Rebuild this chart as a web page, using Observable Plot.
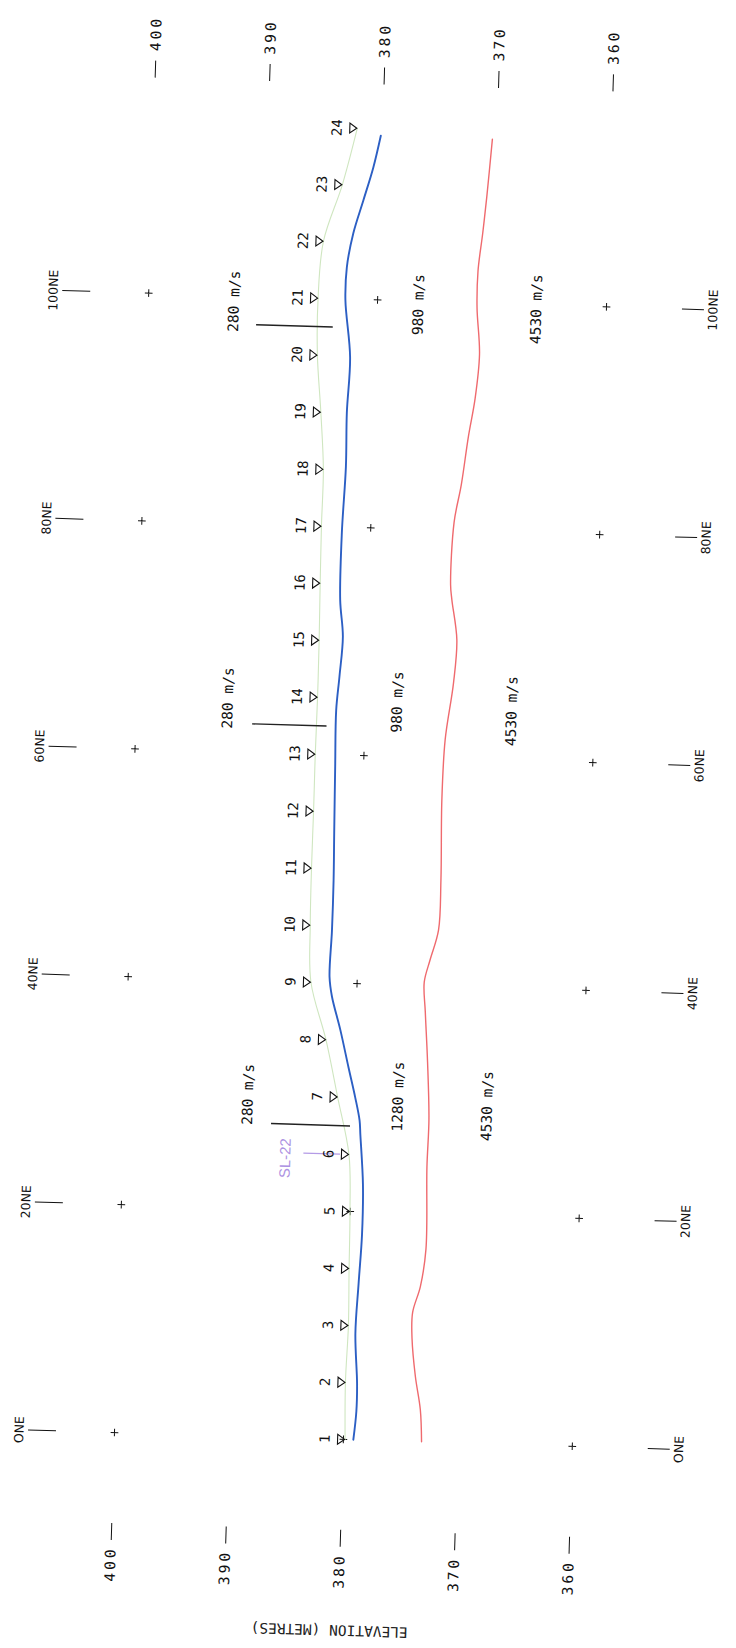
<!DOCTYPE html>
<html>
<head>
<meta charset="utf-8">
<script src="https://cdn.jsdelivr.net/npm/d3@7"></script>
<script src="https://cdn.jsdelivr.net/npm/@observablehq/plot@0.6"></script>
<style>
  body { margin: 0; background: #fff; }
  #chart svg { display: block; overflow: visible; transform: rotate(1.72deg); transform-origin: 114px 1432px; }
  g[aria-label="x-axis tick label"] text { letter-spacing: 3px; }
  g[aria-label="velocity label"] text { letter-spacing: 3px; }
  g[aria-label="axis title"] text { letter-spacing: 3.6px; }
  g[aria-label="station number"] text { letter-spacing: 1.5px; }
  g[aria-label="line name"] text { letter-spacing: 2px; }
</style>
</head>
<body>
<div id="chart"></div>
<script>
// ---- data (distance along line in metres, elevation in metres) ----
const elevTicks = [400, 390, 380, 370, 360];
const distTicks = [0, 20, 40, 60, 80, 100];
const distTickLabels = ["ONE", "20NE", "40NE", "60NE", "80NE", "100NE"];
const axisTitle = "ELEVATION (METRES)";

const gridElev = [400, 380, 360];
const gridDist = [0, 20, 40, 60, 80, 100];

const stationNo = ["1","2","3","4","5","6","7","8","9","10","11","12","13","14","15","16","17","18","19","20","21","22","23","24"];
const stationDist = [0, 5, 10, 15, 20, 25, 30, 35, 40, 45, 50, 55, 60, 65, 70, 75, 80, 85, 90, 95, 100, 105, 110, 115];
const groundElev = [379.85, 379.97, 379.86, 379.95, 380.02, 380.26, 381.4, 382.57, 384.03, 384.24, 384.28, 384.25,
                    384.25, 384.2, 384.21, 384.27, 384.31, 384.29, 384.66, 385.11, 385.2, 384.88, 383.38, 382.22];

// base of the 280 m/s layer
const blueDist = [0, 2.5, 4.9, 9.3, 13.7, 18, 22.4, 26.8, 28, 30, 32.6, 35.9, 38.8, 40.5, 44.6, 49, 53.1, 59, 63.9, 66.9,
                  70.4, 73.6, 79.5, 85.3, 90, 94.9, 99.9, 102.8, 105.8, 108.7, 111.6, 114.4];
const blueElev = [379.13, 378.94, 378.95, 379.23, 379.08, 378.91, 378.96, 379.32, 379.42, 379.86, 380.52, 381.34, 382.16, 382.42,
                  382.33, 382.32, 382.39, 382.48, 382.54, 382.34, 382.15, 382.48, 382.51, 382.33, 382.39, 382.25, 382.81,
                  382.77, 382.29, 381.5, 380.72, 380.15];

// top of the 4530 m/s layer
const redDist = [0, 2.8, 5.7, 9, 11.3, 13.6, 16.9, 24.1, 28.3, 33.3, 37.7, 40.3, 42.3, 44.9, 49.3, 56.3, 61.6, 66.6, 70.4,
                 73.9, 75.2, 80.7, 84, 88.3, 91.6, 95.5, 99.6, 102.8, 106.1, 109.3, 114.4];
const redElev = [373.17, 373.36, 373.88, 374.27, 374.29, 373.68, 373.29, 373.42, 373.37, 373.64, 373.97, 374.14, 373.68,
                 373.03, 372.95, 373.08, 372.95, 372.37, 372.19, 372.73, 372.88, 372.74, 372.21, 371.71, 371.23, 370.96,
                 371.3, 371.31, 371.0, 370.74, 370.4];

// velocity boundaries in the surface layer
const boundDist = [97.5, 62.5, 27.5];
const boundTop = [390.5, 389.8, 387.1];
const boundBottom = [383.8, 383.3, 380.2];

// velocity labels
const velText = ["280 m/s", "280 m/s", "280 m/s", "980 m/s", "980 m/s", "1280 m/s", "4530 m/s", "4530 m/s", "4530 m/s"];
const velDist = [99.5, 64.7, 30.0, 99.7, 64.8, 30.2, 99.6, 64.3, 29.6];
const velElev = [392.5, 392.0, 389.2, 376.4, 377.2, 376.1, 366.1, 367.2, 368.3];

// intersecting line
const lineName = ["SL-22"];
const lineNameDist = [24.5];
const lineNameElev = [385.8];
const lineTickDist = [25];
const lineTickTop = [384.2];
const lineTickBottom = [381.0];

// ---- tables built from the arrays ----
const stations = stationNo.map((n, i) => ({n, d: stationDist[i], e: groundElev[i]}));
const blue = blueDist.map((d, i) => ({d, e: blueElev[i]}));
const red = redDist.map((d, i) => ({d, e: redElev[i]}));
const grid = gridElev.flatMap(e => gridDist.map(d => ({d, e})));
const bounds = boundDist.map((d, i) => ({d, e1: boundTop[i], e2: boundBottom[i]}));
const vel = velText.map((t, i) => ({t, d: velDist[i], e: velElev[i]}));
const sl = lineName.map((t, i) => ({t, d: lineNameDist[i], e: lineNameElev[i]}));
const slTick = lineTickDist.map((d, i) => ({d, e1: lineTickTop[i], e2: lineTickBottom[i]}));
const distLabel = new Map(distTicks.map((d, i) => [d, distTickLabels[i]]));

const triRight = {
  draw(ctx, size) {
    const r = Math.sqrt(size / Math.PI);
    ctx.moveTo(0.7 * r, 0);
    ctx.lineTo(-0.7 * r, -r);
    ctx.lineTo(-0.7 * r, r);
    ctx.closePath();
  }
};

const mono = "DejaVu Sans Mono";

const chart = Plot.plot({
  width: 736,
  height: 1648,
  marginTop: 76,
  marginBottom: 125,
  marginLeft: 56,
  marginRight: 89,
  style: {background: "#fff", color: "#111", fontFamily: mono},
  x: {domain: [400, 360], range: [114, 572]},
  y: {domain: [0, 100], range: [1432, 292]},
  marks: [
    Plot.axisX({anchor: "top", ticks: elevTicks, tickRotate: -90, tickSize: 17, tickPadding: 9,
                fontSize: 14.5, fontFamily: mono, label: null, tickFormat: d => String(d)}),
    Plot.axisX({anchor: "bottom", ticks: elevTicks, tickRotate: -90, tickSize: 17, tickPadding: 6,
                fontSize: 14.5, fontFamily: mono, label: null, tickFormat: d => String(d)}),
    Plot.axisY({anchor: "left", ticks: distTicks, tickRotate: -90, tickSize: 28, tickPadding: 5,
                fontSize: 12.5, fontFamily: "DejaVu Sans", label: null, tickFormat: d => distLabel.get(d)}),
    Plot.axisY({anchor: "right", ticks: distTicks, tickRotate: -90, tickSize: 22, tickPadding: 14,
                fontSize: 12.5, fontFamily: "DejaVu Sans", label: null, tickFormat: d => distLabel.get(d)}),
    Plot.text([axisTitle], {frameAnchor: "bottom", dx: -17, dy: 95, rotate: 180, fontSize: 14.5,
                fontFamily: mono, fill: "#222", ariaLabel: "axis title"}),
    Plot.dot(grid, {x: "e", y: "d", symbol: "plus", r: 2.6, stroke: "#111", strokeWidth: 1}),
    Plot.line(red, {x: "e", y: "d", stroke: "#ef6a6e", strokeWidth: 1.4, curve: "catmull-rom"}),
    Plot.line(blue, {x: "e", y: "d", stroke: "#2c5fc4", strokeWidth: 1.9, curve: "catmull-rom"}),
    Plot.line(stations, {x: "e", y: "d", stroke: "#cfe6c0", strokeWidth: 1.1, curve: "catmull-rom"}),
    Plot.ruleY(bounds, {y: "d", x1: "e1", x2: "e2", stroke: "#222", strokeWidth: 1.4}),
    Plot.ruleY(slTick, {y: "d", x1: "e1", x2: "e2", stroke: "#b49be6", strokeWidth: 1.2}),
    Plot.text(sl, {x: "e", y: "d", text: "t", rotate: -90, fontSize: 15, fontFamily: "Liberation Sans",
                fill: "#ad92e2", ariaLabel: "line name"}),
    Plot.dot(stations, {x: "e", y: "d", symbol: triRight, r: 5, dx: -4, stroke: "#111", strokeWidth: 1.1, fill: "none"}),
    Plot.text(stations, {x: "e", y: "d", text: "n", dx: -20, rotate: -90, fontSize: 14, fontFamily: mono,
                fill: "#111", ariaLabel: "station number"}),
    Plot.text(vel, {x: "e", y: "d", text: "t", rotate: -90, fontSize: 14.5, fontFamily: mono,
                fill: "#111", ariaLabel: "velocity label"})
  ]
});
document.getElementById("chart").append(chart);
</script>
</body>
</html>
